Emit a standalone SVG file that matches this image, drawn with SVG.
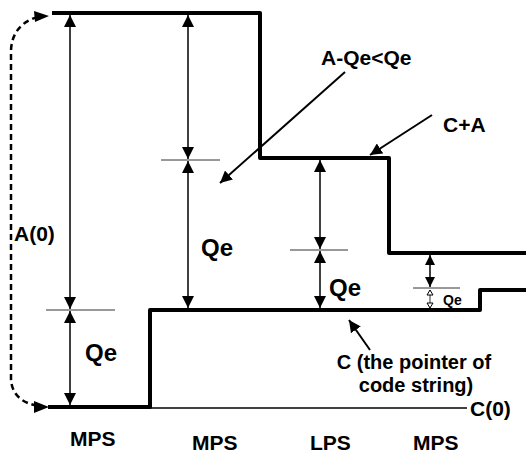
<svg xmlns="http://www.w3.org/2000/svg" width="526" height="456" viewBox="0 0 526 456">
<defs>
<marker id="ah" markerUnits="userSpaceOnUse" markerWidth="12" markerHeight="12" refX="12" refY="6" orient="auto-start-reverse" viewBox="0 0 12 12">
<path d="M0,0 L12,6 L0,12 z" fill="#000"/>
</marker>
<marker id="ahs" markerUnits="userSpaceOnUse" markerWidth="10" markerHeight="10" refX="10" refY="5" orient="auto-start-reverse" viewBox="0 0 10 10">
<path d="M0,0 L10,5 L0,10 z" fill="#000"/>
</marker>
</defs>
<style>
.step{fill:none;stroke:#000;stroke-width:4;stroke-linejoin:round}
.dim{fill:none;stroke:#000;stroke-width:1.5;marker-start:url(#ah);marker-end:url(#ah)}
.dims{fill:none;stroke:#000;stroke-width:1.5;marker-start:url(#ahs);marker-end:url(#ahs)}
.tick{fill:none;stroke:#333;stroke-width:1}
.lead{fill:none;stroke:#000;stroke-width:2;marker-end:url(#ah)}
.t{font-family:"Liberation Sans",Arial,sans-serif;font-weight:bold;fill:#000}
</style>
<rect width="526" height="456" fill="#fff"/>

<g id="interval-top">
<path class="step" d="M52,13 H260 V158 H389 V253 H526"/>
</g>
<g id="code-pointer">
<path class="step" d="M48,407 H150 V310 H480 V290 H526"/>
</g>
<g id="baseline-c0">
<path d="M150,408 H467" fill="none" stroke="#000" stroke-width="1.5"/>
<text class="t" x="470" y="416" font-size="21">C(0)</text>
</g>

<g id="connectors">
<path d="M38,17 C22,21 11,33 11,52 L11,378 C11,394 22,404 40,406" fill="none" stroke="#000" stroke-width="2.5" stroke-dasharray="6,4"/>
<path d="M34,11 L49,16 L35,22 z" fill="#000"/>
<path d="M34,401 L49,407 L34,413 z" fill="#000"/>
<path class="dim" d="M70,15 V309"/>
<path class="dim" d="M70,311 V405"/>
<path class="dim" d="M188,15 V159"/>
<path class="dim" d="M188,161 V308"/>
<path class="dim" d="M320,160 V249"/>
<path class="dim" d="M320,251 V308"/>
<path class="dims" d="M430,255 V287"/>
<path class="tick" d="M430,290 V308"/>
<path d="M427,295 L430,290 L433,295 z" fill="#fff" stroke="#000" stroke-width="1"/>
<path d="M427,303 L430,308 L433,303 z" fill="#fff" stroke="#000" stroke-width="1"/>
<path class="tick" d="M46,310 H115"/>
<path class="tick" d="M161,160 H220"/>
<path class="tick" d="M290,250 H348"/>
<path class="tick" d="M413,288 H460"/>
<path class="lead" d="M345,72 L220,183"/>
<path class="lead" d="M432,115 L370,155"/>
<path class="lead" d="M370,350 L349,320"/>
</g>

<g id="labels">
<text class="t" x="14" y="241" font-size="21">A(0)</text>
<text class="t" x="85" y="361" font-size="24">Qe</text>
<text class="t" x="201" y="256" font-size="24">Qe</text>
<text class="t" x="329" y="296" font-size="24">Qe</text>
<text class="t" x="443" y="305" font-size="14">Qe</text>
<text class="t" x="321" y="65" font-size="21">A-Qe&lt;Qe</text>
<text class="t" x="443" y="132" font-size="21">C+A</text>
<text class="t" x="414" y="369" font-size="20" text-anchor="middle">C  (the pointer  of</text>
<text class="t" x="416" y="392" font-size="20" text-anchor="middle">code string)</text>
<text class="t" x="70" y="446" font-size="21">MPS</text>
<text class="t" x="192" y="450" font-size="21">MPS</text>
<text class="t" x="310" y="450" font-size="21">LPS</text>
<text class="t" x="413" y="450" font-size="21">MPS</text>
</g>
</svg>
